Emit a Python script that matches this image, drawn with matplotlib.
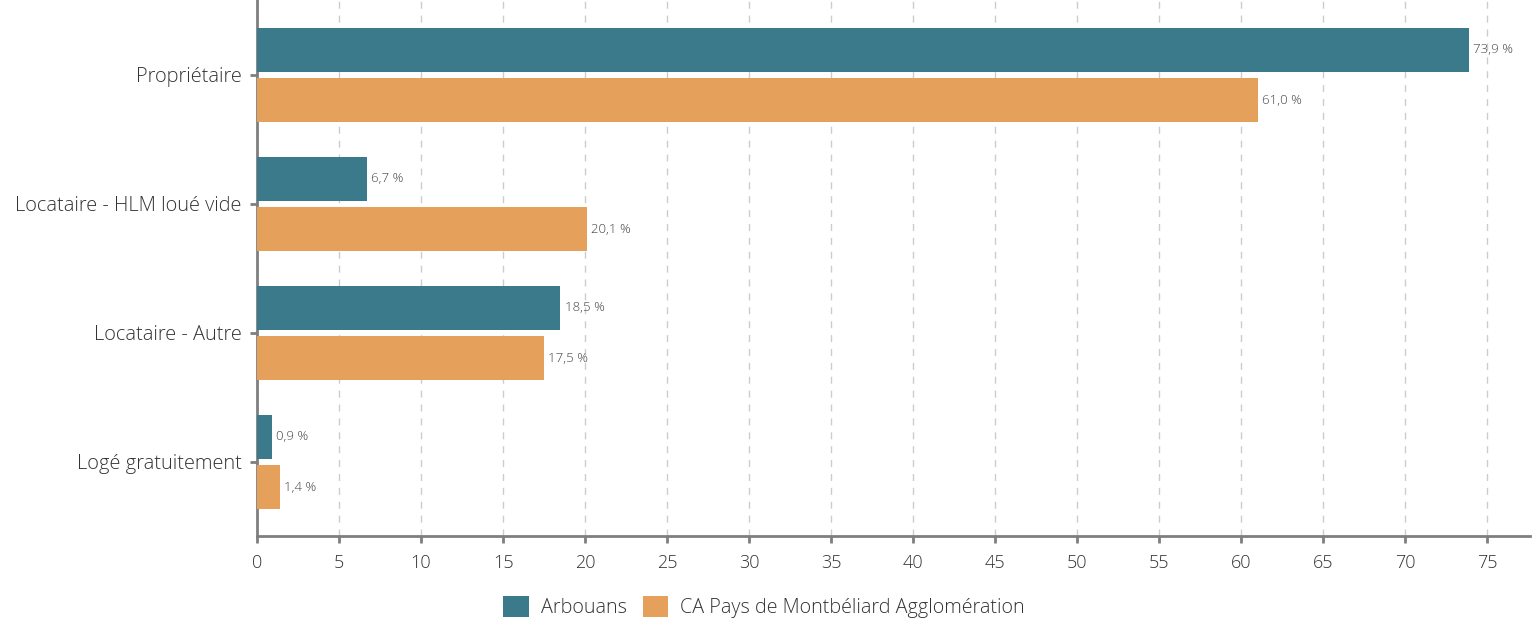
import matplotlib
matplotlib.use("Agg")
import matplotlib.pyplot as plt
from matplotlib.patches import Patch
import numpy as np

categories = ["Propriétaire", "Locataire - HLM loué vide", "Locataire - Autre", "Logé gratuitement"]
series_names = ["Arbouans", "CA Pays de Montbéliard Agglomération"]
arbouans = [73.9, 6.7, 18.5, 0.9]
capma = [61.0, 20.1, 17.5, 1.4]
xticks = list(range(0, 80, 5))

plt.rcParams['font.family'] = ['Open Sans', 'DejaVu Sans']
plt.rcParams['font.weight'] = 'light'
teal = "#3a7a8b"
orange = "#e5a05b"
gray = "#7f7f7f"
txt = "#333333"

fig = plt.figure(figsize=(15.4, 6.28), dpi=100)
ax = fig.add_axes([257/1540, (628-536)/628, (1530-257)/1540, 536/628])

y = np.arange(len(categories))
h = 0.34
off = 0.196
ax.barh(y - off, arbouans, height=h, color=teal, zorder=3)
ax.barh(y + off, capma, height=h, color=orange, zorder=3)

for yi, v in zip(y - off, arbouans):
    ax.text(v + 0.25, yi, f"{v:.1f} %".replace(".", ","), va="center", ha="left",
            fontsize=9.5, color="#444444", zorder=4)
for yi, v in zip(y + off, capma):
    ax.text(v + 0.25, yi, f"{v:.1f} %".replace(".", ","), va="center", ha="left",
            fontsize=9.5, color="#444444", zorder=4)

ax.set_xlim(0, 77.6)
ax.set_ylim(3.574, -0.581)
ax.set_yticks(y)
ax.set_yticklabels(categories, fontsize=14.4, color=txt)
ax.set_xticks(xticks)
ax.set_xticklabels([str(t) for t in xticks], fontsize=13, color=txt)

ax.grid(axis="x", linestyle=(0, (5, 5)), color="#cccccc", linewidth=1, zorder=0)
ax.grid(axis="y", visible=False)
for s in ["top", "right"]:
    ax.spines[s].set_visible(False)
for s in ["left", "bottom"]:
    ax.spines[s].set_color(gray)
    ax.spines[s].set_linewidth(2)
ax.tick_params(axis="both", color=gray, width=2, length=5)
ax.tick_params(axis="y", pad=6)
ax.tick_params(axis="x", pad=8)

handles = [Patch(facecolor=teal), Patch(facecolor=orange)]
fig.legend(handles, series_names, loc="center", bbox_to_anchor=(764/1540, 1 - 607/628),
           ncol=2, frameon=False, fontsize=14.2, handlelength=1.3, handleheight=1.3,
           handletextpad=0.6, columnspacing=0.8, labelcolor=txt)

fig.savefig("out.png", dpi=100)
